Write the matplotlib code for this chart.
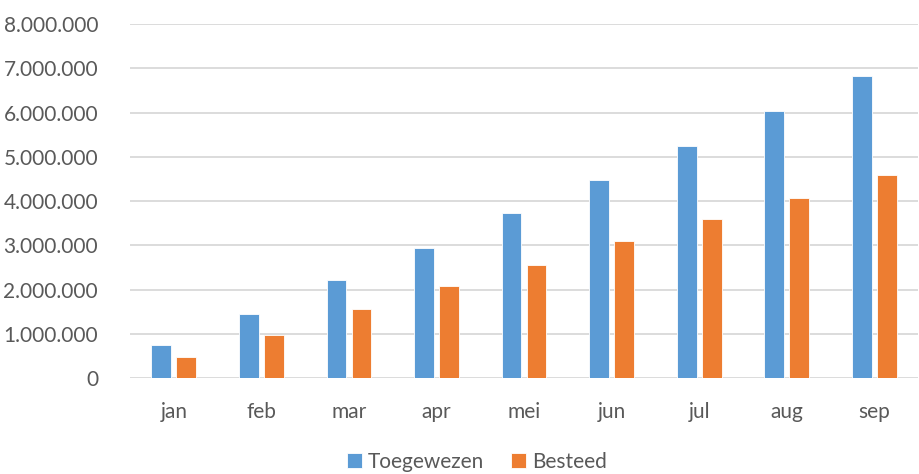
import matplotlib.pyplot as plt
import matplotlib.ticker as mticker
import numpy as np

plt.rcParams['font.family'] = ['Lato', 'DejaVu Sans']

months = ['jan', 'feb', 'mar', 'apr', 'mei', 'jun', 'jul', 'aug', 'sep']
toegewezen = [740000, 1440000, 2210000, 2950000, 3720000, 4470000, 5250000, 6040000, 6820000]
besteed = [480000, 980000, 1560000, 2070000, 2550000, 3090000, 3590000, 4070000, 4580000]

blue = '#5B9BD5'
orange = '#ED7D31'
txt = '#595959'

fig = plt.figure(figsize=(9.19, 4.74), dpi=100)
ax = fig.add_axes([0.1415, 0.2025, 0.8575, 0.7465])

x = np.arange(len(months))
w = 0.225
ax.bar(x - 0.143, toegewezen, w, color=blue, edgecolor='white', linewidth=0.6, label='Toegewezen', zorder=3)
ax.bar(x + 0.143, besteed, w, color=orange, edgecolor='white', linewidth=0.6, label='Besteed', zorder=3)

ax.set_xlim(-0.5, len(months) - 0.5)
ax.set_ylim(0, 8000000)
ax.yaxis.set_major_locator(mticker.MultipleLocator(1000000))
ax.yaxis.set_major_formatter(mticker.FuncFormatter(lambda v, p: '{:,.0f}'.format(v).replace(',', '.')))
ax.grid(axis='y', color='#d9d9d9', linewidth=1.3, zorder=0)
for s in ax.spines.values():
    s.set_visible(False)
ax.tick_params(axis='both', length=0, labelsize=15, colors=txt)
ax.tick_params(axis='y', pad=23)
ax.tick_params(axis='x', pad=17)
ax.set_xticks(x)
ax.set_xticklabels(months)

leg = fig.legend(loc='lower center', bbox_to_anchor=(0.519, -0.035), ncol=2, frameon=False,
                 fontsize=15, handlelength=0.7, handleheight=0.7, handletextpad=0.3,
                 columnspacing=1.3)
for t in leg.get_texts():
    t.set_color(txt)

fig.savefig('out.png', dpi=100)
